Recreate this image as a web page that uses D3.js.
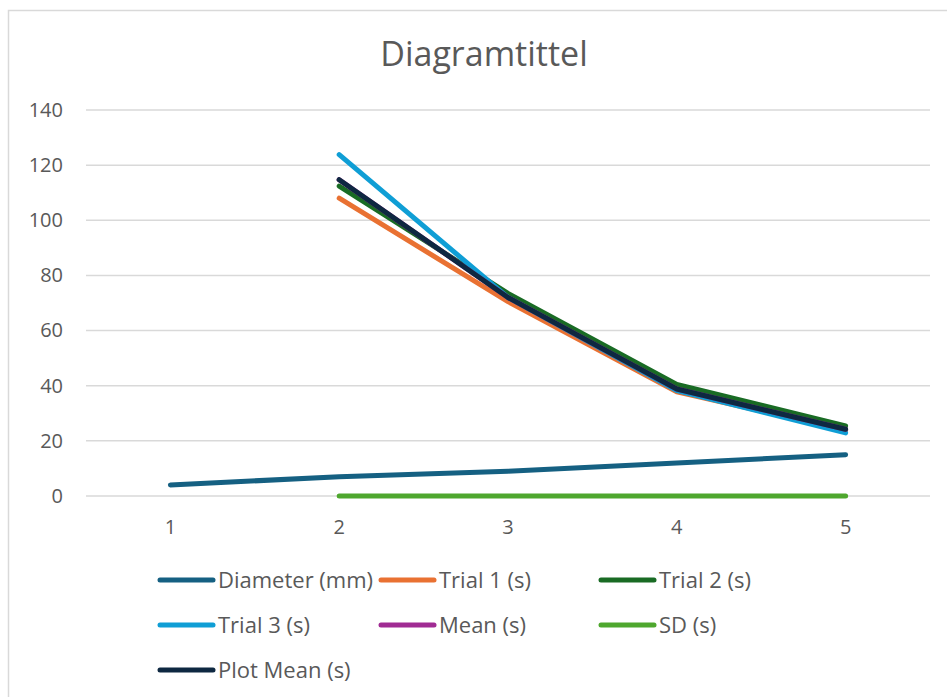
<!DOCTYPE html>
<html>
<head>
<meta charset="utf-8">
<script src="https://cdn.jsdelivr.net/npm/d3@7"></script>
<style>
  html, body { margin: 0; padding: 0; background: #fff; }
  svg { display: block; }
  text { font-family: "Open Sans", "Noto Sans", sans-serif; fill: #595959; }
</style>
</head>
<body>
<svg id="chart" width="947" height="697"></svg>
<script>
const categories = ["1", "2", "3", "4", "5"];
const yTicks = [0, 20, 40, 60, 80, 100, 120, 140];
const seriesNames = ["Diameter (mm)", "Trial 1 (s)", "Trial 2 (s)", "Trial 3 (s)", "Mean (s)", "SD (s)", "Plot Mean (s)"];
const seriesColors = ["#156082", "#E97132", "#196B24", "#0F9ED5", "#A02B93", "#4EA72E", "#0E2841"];
const diameter = [4, 7, 9, 12, 15];
const trial1 = [null, 108, 70.5, 37.8, 23.8];
const trial2 = [null, 112.4, 73.5, 40.5, 25.4];
const trial3 = [null, 123.8, 72, 38.2, 22.9];
const mean = [null, 114.7, 72, 38.8, 24.2];
const sd = [null, 0, 0, 0, 0];
const plotMean = [null, 114.7, 72, 38.8, 24.2];
const allValues = [diameter, trial1, trial2, trial3, mean, sd, plotMean];

const svg = d3.select("#chart");

// chart area border
svg.append("rect").attr("x", 8.5).attr("y", 10.5).attr("width", 960).attr("height", 720)
  .attr("fill", "none").attr("stroke", "#d9d9d9").attr("stroke-width", 1.5);

// title
svg.append("text").attr("x", 484).attr("y", 66).attr("text-anchor", "middle")
  .style("font-size", "34px").text("Diagramtittel");

const x = d3.scaleBand().domain(categories).range([86, 930]);
const y = d3.scaleLinear().domain([0, 140]).range([496, 110]);

// gridlines
svg.append("g").selectAll("line").data(yTicks).join("line")
  .attr("x1", 86).attr("x2", 930)
  .attr("y1", d => y(d)).attr("y2", d => y(d))
  .attr("stroke", "#d9d9d9").attr("stroke-width", 1.5);

// y axis
const yAxis = svg.append("g").attr("transform", "translate(63,0)")
  .call(d3.axisLeft(y).tickValues(yTicks).tickSize(0).tickPadding(0));
yAxis.select(".domain").remove();
yAxis.selectAll("text").style("font-size", "20px").attr("fill", "#595959")
  .style("font-family", "'Open Sans', sans-serif");

// x axis
const xAxis = svg.append("g").attr("transform", "translate(0,534)")
  .call(d3.axisBottom(x).tickSize(0).tickPadding(0));
xAxis.select(".domain").remove();
xAxis.selectAll("text").attr("dy", null).attr("y", 0).style("font-size", "20px").attr("fill", "#595959")
  .style("font-family", "'Open Sans', sans-serif");

const line = d3.line()
  .defined(d => d.v !== null)
  .x(d => x(d.c) + x.bandwidth() / 2)
  .y(d => y(d.v));

allValues.forEach((vals, i) => {
  const data = vals.map((v, j) => ({ c: categories[j], v: v }));
  svg.append("path").datum(data)
    .attr("d", line)
    .attr("fill", "none")
    .attr("stroke", seriesColors[i])
    .attr("stroke-width", 5)
    .attr("stroke-linecap", "round")
    .attr("stroke-linejoin", "round");
});

// legend
const legCols = [159, 380, 600];
const legRows = [580, 625, 670];
seriesNames.forEach((name, i) => {
  const cx = legCols[i % 3], cy = legRows[Math.floor(i / 3)];
  const g = svg.append("g");
  g.append("line").attr("x1", cx + 1).attr("x2", cx + 54).attr("y1", cy).attr("y2", cy)
    .attr("stroke", seriesColors[i]).attr("stroke-width", 5).attr("stroke-linecap", "round");
  g.append("text").attr("x", cx + 59).attr("y", cy).attr("dy", "0.35em")
    .style("font-size", "22px").text(name);
});
</script>
</body>
</html>
